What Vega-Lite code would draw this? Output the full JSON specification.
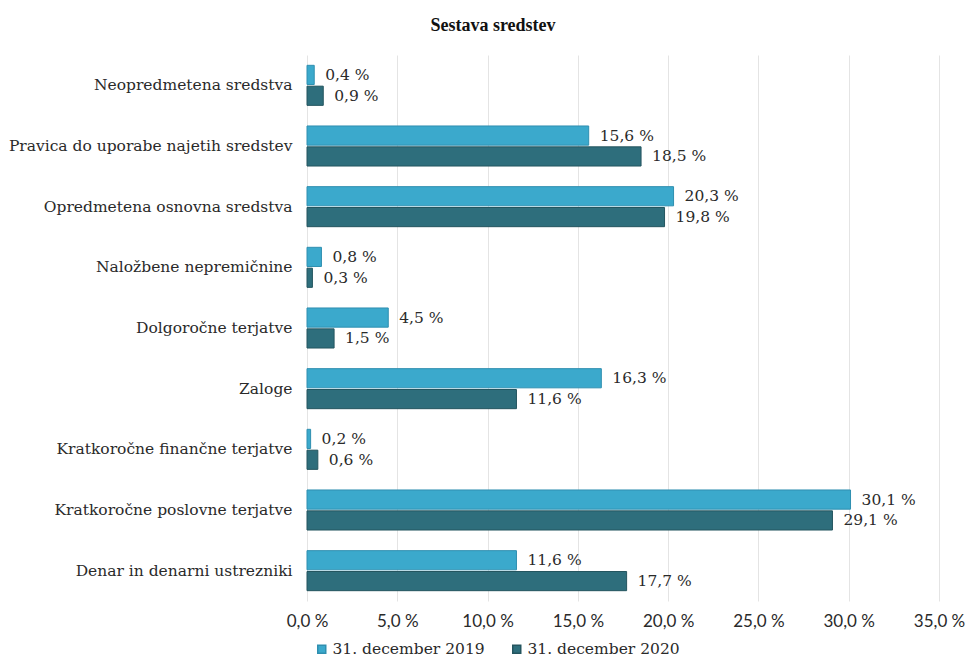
{
  "$schema": "https://vega.github.io/schema/vega-lite/v6.json",
  "width": 632,
  "height": 546,
  "autosize": {"type": "none"},
  "padding": {"left": 307, "top": 55, "right": 29, "bottom": 62},
  "background": "white",
  "config": {
    "locale": {"number": {"decimal": ",", "thousands": ".", "grouping": [3], "currency": ["", " €"], "percent": " %"}},
    "font": "DejaVu Serif",
    "view": {"stroke": null},
    "axis": {"labelFont": "DejaVu Serif", "labelColor": "#2a2a2a", "labelFontSize": 15.5, "titleFont": "DejaVu Serif"},
    "legend": {"labelFont": "DejaVu Serif", "labelFontSize": 15.5, "labelColor": "#2a2a2a"}
  },
  "title": {
    "text": "Sestava sredstev",
    "font": "Liberation Serif",
    "fontSize": 18,
    "fontWeight": "bold",
    "color": "#111111",
    "anchor": "middle",
    "dx": -130,
    "offset": 20
  },
  "data": {
    "values": [
      {"cat": "Neopredmetena sredstva", "series": "31. december 2019", "value": 0.004},
      {"cat": "Neopredmetena sredstva", "series": "31. december 2020", "value": 0.009},
      {"cat": "Pravica do uporabe najetih sredstev", "series": "31. december 2019", "value": 0.156},
      {"cat": "Pravica do uporabe najetih sredstev", "series": "31. december 2020", "value": 0.185},
      {"cat": "Opredmetena osnovna sredstva", "series": "31. december 2019", "value": 0.203},
      {"cat": "Opredmetena osnovna sredstva", "series": "31. december 2020", "value": 0.198},
      {"cat": "Naložbene nepremičnine", "series": "31. december 2019", "value": 0.008},
      {"cat": "Naložbene nepremičnine", "series": "31. december 2020", "value": 0.003},
      {"cat": "Dolgoročne terjatve", "series": "31. december 2019", "value": 0.045},
      {"cat": "Dolgoročne terjatve", "series": "31. december 2020", "value": 0.015},
      {"cat": "Zaloge", "series": "31. december 2019", "value": 0.163},
      {"cat": "Zaloge", "series": "31. december 2020", "value": 0.116},
      {"cat": "Kratkoročne finančne terjatve", "series": "31. december 2019", "value": 0.002},
      {"cat": "Kratkoročne finančne terjatve", "series": "31. december 2020", "value": 0.006},
      {"cat": "Kratkoročne poslovne terjatve", "series": "31. december 2019", "value": 0.301},
      {"cat": "Kratkoročne poslovne terjatve", "series": "31. december 2020", "value": 0.291},
      {"cat": "Denar in denarni ustrezniki", "series": "31. december 2019", "value": 0.116},
      {"cat": "Denar in denarni ustrezniki", "series": "31. december 2020", "value": 0.177}
    ]
  },
  "encoding": {
    "y": {
      "field": "cat", "type": "nominal", "sort": null, "title": null,
      "scale": {"paddingInner": 0.34, "paddingOuter": 0.17},
      "axis": {"ticks": false, "domain": false, "labelPadding": 15, "labelLimit": 320}
    },
    "yOffset": {"field": "series", "type": "nominal", "scale": {"paddingInner": 0.08}},
    "x": {
      "field": "value", "type": "quantitative", "title": null,
      "scale": {"domain": [0, 0.35]},
      "axis": {"format": ".1%", "values": [0, 0.05, 0.1, 0.15, 0.2, 0.25, 0.3, 0.35], "ticks": false, "domain": false, "grid": true, "gridColor": "#e4e4e4", "gridWidth": 1, "labelPadding": 12, "labelFlush": false, "labelOverlap": false, "labelFont": "Lato", "labelFontSize": 17}
    }
  },
  "layer": [
    {
      "mark": {"type": "bar", "strokeWidth": 1},
      "encoding": {
        "color": {
          "field": "series", "type": "nominal", "title": null,
          "scale": {"domain": ["31. december 2019", "31. december 2020"], "range": ["#3ba9cc", "#2e6e7c"]},
          "legend": {"orient": "none", "direction": "horizontal", "legendX": 7, "legendY": 586, "symbolType": "square", "symbolSize": 64, "columnPadding": 24, "symbolOffset": 0, "labelOffset": 3}
        },
        "stroke": {
          "field": "series", "type": "nominal",
          "scale": {"domain": ["31. december 2019", "31. december 2020"], "range": ["#2f8fb0", "#24555f"]},
          "legend": null
        }
      }
    },
    {
      "mark": {"type": "text", "align": "left", "baseline": "middle", "dx": 11, "fontSize": 15.5, "color": "#2a2a2a", "font": "DejaVu Serif"},
      "encoding": {
        "text": {"field": "value", "type": "quantitative", "format": ".1%"}
      }
    }
  ]
}
